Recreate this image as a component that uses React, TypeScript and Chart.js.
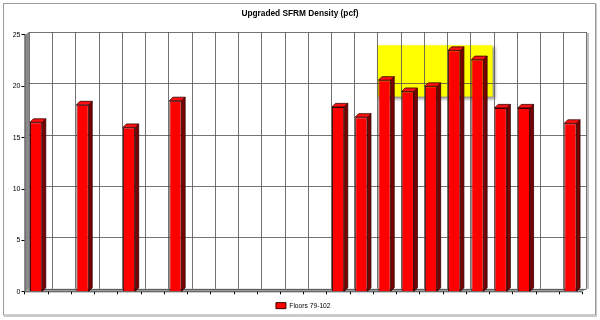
import React, { useEffect, useRef } from "react";
import { Chart, registerables } from "chart.js";

Chart.register(...registerables);

const TITLE = "Upgraded SFRM Density (pcf)";
const SERIES_NAME = "Floors 79-102";
const floors: string[] = [
  "79", "80", "81", "82", "83", "84", "85", "86", "87", "88", "89", "90",
  "91", "92", "93", "94", "95", "96", "97", "98", "99", "100", "101", "102",
];
const density: (number | null)[] = [
  16.5, null, 18.2, null, 16.0, null, 18.6, null, null, null, null, null,
  null, 18.0, 17.0, 20.6, 19.5, 20.0, 23.5, 22.6, 17.9, 17.9, null, 16.4,
];
const yTicks: number[] = [0, 5, 10, 15, 20, 25];
// highlighted region: category index range and value range
const highlightCats: number[] = [15, 19];
const highlightVals: number[] = [19, 24];

const WALL_DX = 4.5;
const WALL_DY = -3;
const BAR_DX = 3.5;
const BAR_DY = -3.5;
const FONT = "'Liberation Sans', Arial, sans-serif";

const scenePlugin = {
  id: "scene3d",
  beforeDraw(chart: any) {
    const ctx = chart.ctx;
    ctx.save();
    ctx.fillStyle = "#ffffff";
    ctx.fillRect(0, 0, chart.width, chart.height);
    ctx.strokeStyle = "#9a9a9a";
    ctx.lineWidth = 1;
    ctx.strokeRect(3.5, 3.5, 592, 311.5);
    ctx.strokeStyle = "#c8c8c8";
    ctx.beginPath();
    ctx.moveTo(596.5, 4);
    ctx.lineTo(596.5, 316.5);
    ctx.lineTo(4, 316.5);
    ctx.stroke();
    ctx.restore();
  },
  beforeDatasetsDraw(chart: any) {
    const ctx = chart.ctx;
    const xs = chart.scales.x;
    const ys = chart.scales.y;
    const a = chart.chartArea;
    const n = floors.length;
    const cw = (a.right - a.left) / n;
    ctx.save();
    // left wall
    ctx.fillStyle = "#8a8a8a";
    ctx.beginPath();
    ctx.moveTo(a.left, a.bottom);
    ctx.lineTo(a.left, a.top);
    ctx.lineTo(a.left + WALL_DX, a.top + WALL_DY);
    ctx.lineTo(a.left + WALL_DX, a.bottom + WALL_DY);
    ctx.closePath();
    ctx.fill();
    ctx.strokeStyle = "#5a5a5a";
    ctx.lineWidth = 1;
    ctx.beginPath();
    ctx.moveTo(a.left + 0.5, a.bottom);
    ctx.lineTo(a.left + 0.5, a.top);
    ctx.stroke();
    // floor
    ctx.fillStyle = "#9a9a9a";
    ctx.beginPath();
    ctx.moveTo(a.left, a.bottom);
    ctx.lineTo(a.right, a.bottom);
    ctx.lineTo(a.right + WALL_DX, a.bottom + WALL_DY);
    ctx.lineTo(a.left + WALL_DX, a.bottom + WALL_DY);
    ctx.closePath();
    ctx.fill();
    ctx.strokeStyle = "#505050";
    ctx.beginPath();
    ctx.moveTo(a.left, a.bottom);
    ctx.lineTo(a.right, a.bottom);
    ctx.stroke();

    // back wall right shadow
    ctx.strokeStyle = "#c0c0c0";
    ctx.lineWidth = 2;
    ctx.beginPath();
    ctx.moveTo(a.right + WALL_DX + 1.5, a.top + WALL_DY + 1);
    ctx.lineTo(a.right + WALL_DX + 1.5, a.bottom + WALL_DY);
    ctx.stroke();

    // highlight box (with shadow)
    const hx0 = xs.getPixelForValue(highlightCats[0]) - cw / 2 + WALL_DX;
    const hx1 = xs.getPixelForValue(highlightCats[1]) + cw / 2 + WALL_DX - 1;
    const hy0 = ys.getPixelForValue(highlightVals[1]);
    const hy1 = ys.getPixelForValue(highlightVals[0]);
    ctx.save();
    ctx.shadowColor = "rgba(0,0,0,0.45)";
    ctx.shadowBlur = 3;
    ctx.shadowOffsetX = 2;
    ctx.shadowOffsetY = 2;
    ctx.fillStyle = "#ffff00";
    ctx.fillRect(hx0, hy0, hx1 - hx0, hy1 - hy0);
    ctx.restore();

    // back-wall grid
    ctx.strokeStyle = "rgba(80,80,80,0.8)";
    ctx.lineWidth = 1;
    ctx.beginPath();
    for (const t of yTicks) {
      const y = Math.round(ys.getPixelForValue(t) + WALL_DY) + 0.5;
      ctx.moveTo(a.left + WALL_DX, y);
      ctx.lineTo(a.right + WALL_DX, y);
    }
    for (let i = 0; i <= n; i++) {
      const x = Math.round(xs.getPixelForValue(i) - cw / 2 + WALL_DX) + 0.5;
      ctx.moveTo(x, a.top + WALL_DY);
      ctx.lineTo(x, a.bottom + WALL_DY);
    }
    ctx.stroke();

    // x-axis tick marks on front edge
    ctx.strokeStyle = "#000000";
    ctx.beginPath();
    for (let i = 0; i <= n; i++) {
      const x = Math.round(xs.getPixelForValue(i) - cw / 2) + 0.5;
      ctx.moveTo(x, a.bottom);
      ctx.lineTo(x, a.bottom + 2.5);
    }
    ctx.stroke();
    ctx.restore();
  },
  afterDatasetsDraw(chart: any) {
    const ctx = chart.ctx;
    const meta = chart.getDatasetMeta(0);
    ctx.save();
    ctx.lineWidth = 0.8;
    ctx.strokeStyle = "#300000";
    meta.data.forEach((bar: any, i: number) => {
      if (density[i] == null) return;
      const { x, y, base, width } = bar.getProps(["x", "y", "base", "width"], true);
      const l = x - width / 2;
      const r = x + width / 2;
      // side
      ctx.fillStyle = "#7a0000";
      ctx.beginPath();
      ctx.moveTo(r, y);
      ctx.lineTo(r + BAR_DX, y + BAR_DY);
      ctx.lineTo(r + BAR_DX, base + BAR_DY);
      ctx.lineTo(r, base);
      ctx.closePath();
      ctx.fill();
      ctx.stroke();
      // top
      ctx.fillStyle = "#ff1010";
      ctx.beginPath();
      ctx.moveTo(l, y);
      ctx.lineTo(l + BAR_DX, y + BAR_DY);
      ctx.lineTo(r + BAR_DX, y + BAR_DY);
      ctx.lineTo(r, y);
      ctx.closePath();
      ctx.fill();
      ctx.stroke();
    });
    ctx.restore();
  },
};

export default function App() {
  const ref = useRef<HTMLCanvasElement | null>(null);
  useEffect(() => {
    document.body.style.margin = "0";
    const canvas = ref.current;
    if (!canvas) return;
    const chart = new Chart(canvas, {
      type: "bar",
      data: {
        labels: floors,
        datasets: [
          {
            label: SERIES_NAME,
            data: density,
            backgroundColor: "#ff0000",
            borderColor: "#300000",
            borderWidth: 1,
            barPercentage: 0.53,
            categoryPercentage: 1,
            yAxisID: "y",
          },
        ],
      },
      options: {
        animation: false,
        responsive: false,
        events: [],
        layout: { padding: { left: 0, right: 0, top: 0, bottom: 1 } },
        plugins: {
          title: {
            display: true,
            text: TITLE,
            color: "#000000",
            font: { family: FONT, size: 8.3, weight: "bold" },
            padding: { top: 9, bottom: 16 },
          },
          legend: {
            display: true,
            position: "bottom",
            fullSize: false,
            labels: {
              color: "#000000",
              font: { family: FONT, size: 6.7 },
              boxWidth: 10,
              boxHeight: 6,
              padding: 10.5,
            },
          },
          tooltip: { enabled: false },
        },
        scales: {
          x: {
            display: false,
            offset: true,
          },
          y: {
            position: "left",
            min: 0,
            max: 25,
            afterBuildTicks(scale: any) {
              scale.ticks = yTicks.map((v) => ({ value: v }));
            },
            afterFit(scale: any) {
              scale.width = 24.5;
            },
            border: { display: false },
            grid: {
              display: true,
              drawOnChartArea: false,
              drawTicks: true,
              tickLength: 3,
              color: "#000000",
            },
            ticks: {
              color: "#000000",
              padding: 1,
              font: { family: FONT, size: 7 },
            },
          },
          y2: {
            position: "right",
            display: true,
            min: 0,
            max: 25,
            afterFit(scale: any) {
              scale.width = 18;
            },
            border: { display: false },
            grid: { display: false, drawTicks: false },
            ticks: { display: false },
          },
        },
      },
      plugins: [scenePlugin],
    });
    return () => chart.destroy();
  }, []);
  return <canvas ref={ref} width={600} height={320} style={{ display: "block" }} />;
}
